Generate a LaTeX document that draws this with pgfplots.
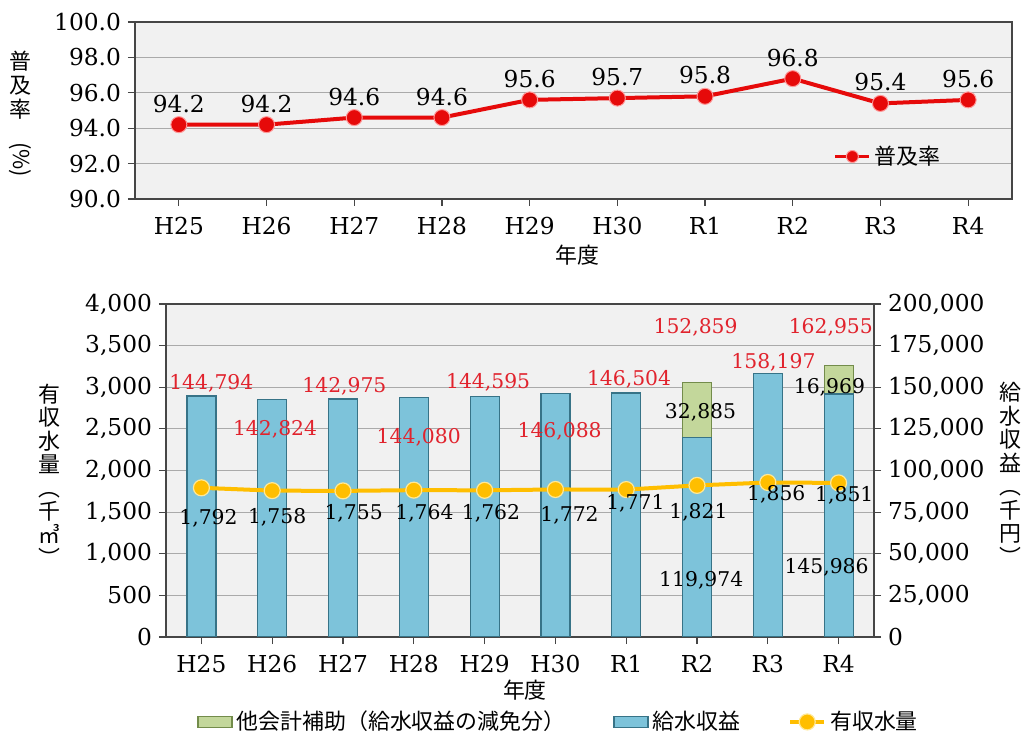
\documentclass[border=0pt]{standalone}
\usepackage{fontspec}
\setmainfont{DejaVu Serif}
\newfontfamily\cjk{Noto Sans CJK JP}
\usepackage{graphicx}
\usepackage{pgfplots}
\pgfplotsset{compat=1.18}
\definecolor{bgray}{RGB}{241,241,241}
\definecolor{gridc}{RGB}{170,170,170}
\definecolor{axc}{RGB}{70,70,70}
\definecolor{lred}{RGB}{230,10,10}
\definecolor{tred}{RGB}{225,35,45}
\definecolor{bfill}{RGB}{125,195,218}
\definecolor{bdraw}{RGB}{55,115,135}
\definecolor{gfill}{RGB}{195,215,155}
\definecolor{gdraw}{RGB}{115,140,75}
\definecolor{yel}{RGB}{255,190,0}
\definecolor{yedge}{RGB}{255,232,150}
\begin{document}
\begin{tikzpicture}
\useasboundingbox (0,0) rectangle (517.5bp,366.5bp);
% ---------- top panel ----------
\begin{axis}[
  at={(67.5bp,267bp)}, anchor=south west,
  scale only axis, width=438.5bp, height=88.5bp,
  xmin=-0.5, xmax=9.5, ymin=90, ymax=100,
  xtick={0,...,9},
  xticklabels={H25,H26,H27,H28,H29,H30,R1,R2,R3,R4},
  ytick={90,92,94,96,98,100},
  xtick pos=bottom, ytick pos=left, tick align=outside,
  major tick length=3.5bp,
  axis background/.style={fill=bgray},
  ymajorgrids, grid style={gridc, line width=0.6pt},
  axis line style={axc, line width=0.8pt},
  every tick/.style={axc, line width=0.6pt},
  /pgf/number format/assume math mode=true,
  yticklabel style={/pgf/number format/fixed, /pgf/number format/precision=1, /pgf/number format/fixed zerofill, font=\fontsize{11.7}{12}\selectfont},
  xticklabel style={font=\fontsize{11.7}{12}\selectfont, yshift=-2bp},
  xlabel={年度},
  xlabel style={at={(axis description cs:0.504,-0.316)}, anchor=center, font=\cjk\fontsize{11}{12}\selectfont},
  ylabel={普\\及\\率\\\rotatebox{-90}{(\%)}},
  ylabel style={at={(axis description cs:-0.131,0.48)}, anchor=center, rotate=-90, align=center, font=\cjk\fontsize{11}{12.2}\selectfont},
  legend style={at={(0.86,0.24)}, anchor=center, draw=none, fill=none, font=\cjk\fontsize{11}{12}\selectfont, inner sep=1pt},
  legend image code/.code={\draw[#1, mark=none, line width=1.5pt] plot coordinates {(0cm,0cm) (0.6cm,0cm)};\draw[#1, mark size=3bp] plot[mark=*] coordinates {(0.3cm,0cm)};},
]
\addplot[lred, line width=2bp, mark=*, mark size=4bp,
  mark options={fill=lred, draw=red!40!white, line width=0.5pt},
  nodes near coords, point meta=explicit symbolic,
  every node near coord/.append style={font=\fontsize{11.7}{12}\selectfont, text=black, yshift=2.5bp}]
table[meta=lab] {
x y lab
0 94.2 94.2
1 94.2 94.2
2 94.6 94.6
3 94.6 94.6
4 95.6 95.6
5 95.7 95.7
6 95.8 95.8
7 96.8 96.8
8 95.4 95.4
9 95.6 95.6
};
\addlegendentry{普及率}
\end{axis}
% ---------- bottom panel: bars (right axis) ----------
\begin{axis}[
  at={(83bp,48bp)}, anchor=south west,
  scale only axis, width=354bp, height=166.5bp,
  xmin=-0.5, xmax=9.5, ymin=0, ymax=200000,
  xtick={0,...,9},
  xticklabels={H25,H26,H27,H28,H29,H30,R1,R2,R3,R4},
  ytick={0,25000,50000,75000,100000,125000,150000,175000,200000},
  scaled y ticks=false,
  xtick pos=bottom, ytick pos=right, yticklabel pos=right, tick align=outside,
  major tick length=3.5bp,
  axis background/.style={fill=bgray},
  ymajorgrids, grid style={gridc, line width=0.6pt},
  axis line style={axc, line width=0.8pt},
  every tick/.style={axc, line width=0.6pt},
  /pgf/number format/assume math mode=true,
  yticklabel style={/pgf/number format/fixed, /pgf/number format/precision=0, /pgf/number format/1000 sep={,}, font=\fontsize{11.7}{12}\selectfont},
  xticklabel style={font=\fontsize{11.7}{12}\selectfont, yshift=-2bp},
  xlabel={年度},
  xlabel style={at={(axis description cs:0.507,-0.159)}, anchor=center, font=\cjk\fontsize{11}{12}\selectfont},
  ylabel={給\\水\\収\\益\\︵\\千\\円\\︶},
  ylabel style={at={(axis description cs:1.192,0.49)}, anchor=center, rotate=-90, align=center, font=\cjk\fontsize{11}{11.8}\selectfont},
]
\addplot[ybar, bar width=14.5bp, bar shift=0pt, fill=gfill, draw=gdraw, line width=0.6pt]
table {
x y
7 152859
9 162955
};
\addplot[ybar, bar width=14.5bp, bar shift=0pt, fill=bfill, draw=bdraw, line width=0.6pt]
table {
x y
0 144794
1 142824
2 142975
3 144080
4 144595
5 146088
6 146504
7 119974
8 158197
9 145986
};
% red total labels
\addplot[draw=none, mark=none, nodes near coords, point meta=explicit symbolic,
  every node near coord/.append style={anchor=center, text=tred, font=\fontsize{10.2}{11}\selectfont, inner sep=0pt}]
table[meta=lab] {
x y lab
0.14 152553 144,794
1.04 124925 142,824
2.02 150751 142,975
3.07 119820 144,080
4.05 152853 144,595
5.06 123724 146,088
6.04 154955 146,504
6.98 186186 152,859
8.08 164865 158,197
8.89 186186 162,955
};
% black segment labels
\addplot[draw=none, mark=none, nodes near coords, point meta=explicit symbolic,
  every node near coord/.append style={anchor=center, text=black, font=\fontsize{10.2}{11}\selectfont, inner sep=0pt}]
table[meta=lab] {
x y lab
7.05 135135 32,885
7.06 34234 119,974
8.87 150150 16,969
8.83 42042 145,986
};
\end{axis}
% ---------- bottom panel: line (left axis) ----------
\begin{axis}[
  at={(83bp,48bp)}, anchor=south west,
  scale only axis, width=354bp, height=166.5bp,
  xmin=-0.5, xmax=9.5, ymin=0, ymax=4000,
  hide x axis,
  axis y line*=left,
  ytick={0,500,...,4000},
  tick align=outside, major tick length=3.5bp,
  axis line style={axc, line width=0.8pt},
  every tick/.style={axc, line width=0.6pt},
  /pgf/number format/assume math mode=true,
  yticklabel style={/pgf/number format/fixed, /pgf/number format/precision=0, /pgf/number format/1000 sep={,}, font=\fontsize{11.7}{12}\selectfont},
  ylabel={有\\収\\水\\量\\︵\\千\\㎥\\︶},
  ylabel style={at={(axis description cs:-0.164,0.486)}, anchor=center, rotate=-90, align=center, font=\cjk\fontsize{11}{11.8}\selectfont},
  legend style={at={(0.556,-0.255)}, anchor=center, draw=none, fill=none, legend columns=3, font=\cjk\fontsize{11}{12}\selectfont,
    /tikz/every even column/.append style={column sep=22bp}},
]
\addlegendimage{area legend, fill=gfill, draw=gdraw, line width=0.6pt}
\addlegendentry{他会計補助（給水収益の減免分）}
\addlegendimage{area legend, fill=bfill, draw=bdraw, line width=0.6pt}
\addlegendentry{給水収益}
\addplot[yel, line width=2bp, mark=*, mark size=4bp,
  mark options={fill=yel, draw=yedge, line width=0.6pt}]
table {
x y
0 1792
1 1758
2 1755
3 1764
4 1762
5 1772
6 1771
7 1821
8 1856
9 1851
};
\addlegendentry{有収水量}
\addplot[draw=none, mark=none, nodes near coords, point meta=explicit symbolic,
  every node near coord/.append style={anchor=center, text=black, font=\fontsize{10.2}{11}\selectfont, inner sep=0pt}]
table[meta=lab] {
x y lab
0.10 1429 1,792
1.07 1441 1,758
2.15 1489 1,755
3.15 1489 1,764
4.09 1489 1,762
5.20 1465 1,772
6.13 1610 1,771
7.02 1501 1,821
8.12 1718 1,856
9.08 1706 1,851
};
\end{axis}
\end{tikzpicture}
\end{document}
